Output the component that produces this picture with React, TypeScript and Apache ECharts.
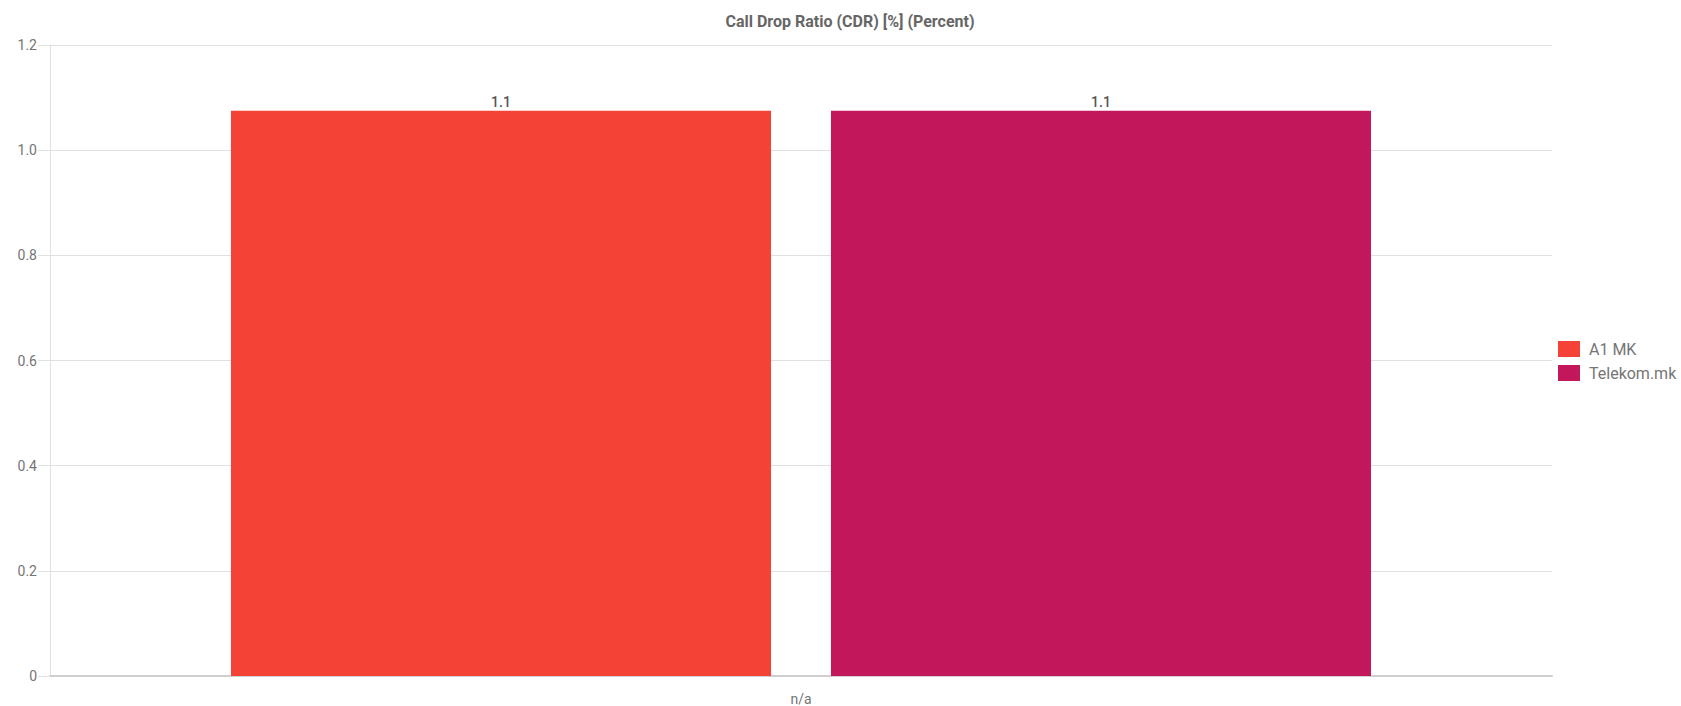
import React, { useEffect, useRef } from "react";
import * as echarts from "echarts";

const categories: string[] = ["n/a"];
const seriesNames: string[] = ["A1 MK", "Telekom.mk"];
const a1Values: number[] = [1.075];
const telekomValues: number[] = [1.075];
const seriesColors: string[] = ["#f44336", "#c2185b"];
const titleText = "Call Drop Ratio (CDR) [%] (Percent)";

export default function App() {
  const ref = useRef<HTMLDivElement>(null);
  useEffect(() => {
    if (!ref.current) return;
    const chart = echarts.init(ref.current, undefined, { renderer: "svg" });
    const labelCfg = {
      show: true,
      position: "top" as const,
      distance: 2,
      color: "#555",
      fontSize: 14,
      fontWeight: 500,
      fontFamily: "Roboto",
      formatter: (p: any) => Number(p.value).toFixed(1),
    };
    chart.setOption({
      animation: false,
      textStyle: { fontFamily: "Roboto" },
      graphic: [
        {
          type: "text",
          x: 850,
          y: 21,
          style: {
            text: titleText,
            fontSize: 16,
            fontWeight: "bold",
            fill: "#666",
            fontFamily: "Roboto",
            align: "center",
            verticalAlign: "middle",
          },
        },
      ],
      legend: {
        orient: "vertical",
        left: 1553,
        top: 336,
        icon: "rect",
        itemWidth: 22,
        itemHeight: 16,
        itemGap: 8,
        textStyle: { fontSize: 16, color: "#757575", fontFamily: "Roboto", padding: [0, 0, 0, 4] },
        data: seriesNames,
      },
      grid: { left: 50, right: 129, top: 45, bottom: 30, containLabel: false },
      xAxis: {
        type: "category",
        data: categories,
        axisLine: { show: true, lineStyle: { color: "#cfcfcf", width: 2 } },
        axisTick: { show: false },
        axisLabel: { color: "#757575", fontSize: 14, margin: 16 },
        splitLine: { show: false },
      },
      yAxis: {
        type: "value",
        min: 0,
        max: 1.2,
        interval: 0.2,
        axisLine: { show: true, lineStyle: { color: "#e0e0e0", width: 1 } },
        axisTick: { show: true, length: 12, lineStyle: { color: "#e0e0e0" } },
        axisLabel: {
          color: "#757575",
          fontSize: 14,
          margin: 13,
          formatter: (v: number) => (v === 0 ? "0" : v.toFixed(1)),
        },
        splitLine: { show: true, lineStyle: { color: "#e0e0e0", width: 1 } },
      },
      series: [
        {
          name: seriesNames[0],
          type: "bar",
          data: a1Values,
          itemStyle: { color: seriesColors[0] },
          barGap: "11.1%",
          barCategoryGap: "24.1%",
          label: labelCfg,
        },
        {
          name: seriesNames[1],
          type: "bar",
          data: telekomValues,
          itemStyle: { color: seriesColors[1] },
          barGap: "11.1%",
          barCategoryGap: "24.1%",
          label: labelCfg,
        },
      ],
    });
    return () => chart.dispose();
  }, []);
  return (
    <div
      ref={ref}
      style={{ position: "fixed", left: 0, top: 0, width: 1681, height: 706, background: "#fff" }}
    />
  );
}
